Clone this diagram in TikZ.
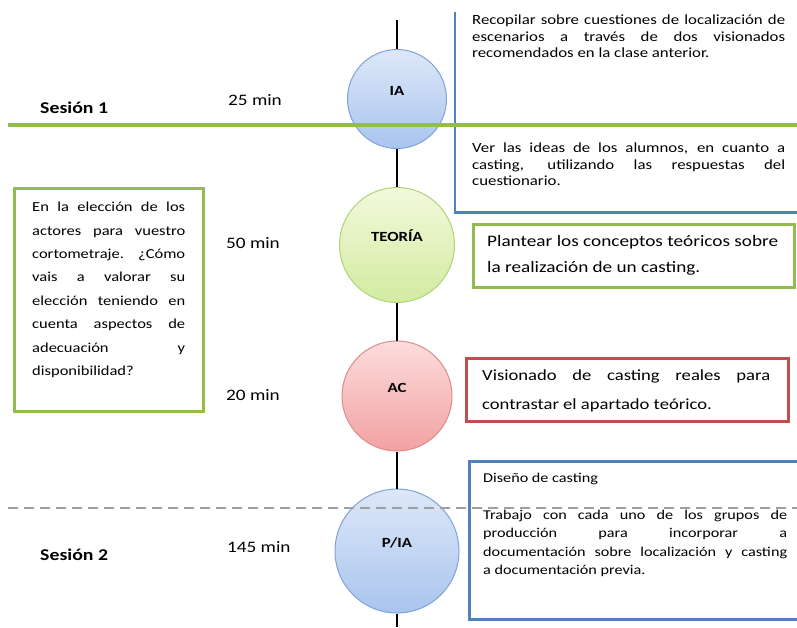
\documentclass[tikz,border=0pt]{standalone}
\usepackage{fontspec}
\setmainfont{Carlito}[FakeStretch=1.2]
\usepackage{tikz}
\setlength{\parindent}{0pt}
\hyphenpenalty=10000
\exhyphenpenalty=10000

\definecolor{boxblue}{HTML}{4F81BD}
\definecolor{boxgreen}{HTML}{92BC4E}
\definecolor{boxred}{HTML}{C0504D}
\definecolor{iatop}{HTML}{DDE8F8}
\definecolor{iabot}{HTML}{A9C4EE}
\definecolor{iaedge}{HTML}{7FA3D6}
\definecolor{teotop}{HTML}{F2F9DC}
\definecolor{teobot}{HTML}{D2EBA0}
\definecolor{teoedge}{HTML}{AED477}
\definecolor{actop}{HTML}{FCDCDC}
\definecolor{acbot}{HTML}{F2A2A2}
\definecolor{acedge}{HTML}{E08A8A}

\begin{document}
\begin{tikzpicture}[%
          x=1pt, y=-1pt,
          phase/.style={circle, draw, line width=1pt, text height=9pt, text depth=16pt,
                        font=\bfseries\fontsize{14}{16}\selectfont},
          framebox/.style={draw, line width=2.5pt, inner sep=0pt, anchor=north west},
          textblock/.style={anchor=north west, inner sep=0pt, align=justify},
          timelabel/.style={anchor=west, inner sep=0pt, font=\fontsize{16}{18}\selectfont},
          sessionlabel/.style={anchor=west, inner sep=0pt, font=\bfseries\fontsize{16.5}{18}\selectfont}]

  \useasboundingbox (0,0) rectangle (797,627);
  \clip (0,0) rectangle (797,627);

  \coordinate (axtop) at (397,20);
  \coordinate (axbot) at (397,627);

  % circles on the time axis
  \node[phase, minimum size=99pt, draw=iaedge, top color=iatop, bottom color=iabot] at (397,99) (ia) {IA};
  \node[phase, minimum size=115pt, draw=teoedge, top color=teotop, bottom color=teobot] at (397,245) (teoria) {TEORÍA};
  \node[phase, minimum size=110pt, draw=acedge, top color=actop, bottom color=acbot] at (397,396) (ac) {AC};
  \node[phase, minimum size=124pt, draw=iaedge, top color=iatop, bottom color=iabot] at (397,551) (pia) {P/IA};

  \draw[line width=2pt] (axtop) -- (ia);
  \draw[line width=2pt] (ia) -- (teoria);
  \draw[line width=2pt] (teoria) -- (ac);
  \draw[line width=2pt] (ac) -- (pia);
  \draw[line width=2pt] (pia) -- (axbot);

  % boxes
  \node[framebox, draw=none, minimum width=360pt, minimum height=198pt] at (455,12) (recbox) {};
  \draw[line width=2.5pt, boxblue] (recbox.north west) |- (recbox.south east);
  \node[framebox, draw=boxgreen, minimum width=189pt, minimum height=223pt] at (13,187) (qbox) {};
  \node[framebox, draw=boxgreen, minimum width=321pt, minimum height=63pt] at (472,223) (plantbox) {};
  \node[framebox, draw=boxred, minimum width=322pt, minimum height=63pt] at (465,357) (visbox) {};
  \node[framebox, draw=boxblue, minimum width=350pt, minimum height=158pt] at (468,460) (trabbox) {};

  % texts
  \node[textblock, text width=313pt, font=\fontsize{14}{16.5}\selectfont] at (472,15) (recop)
    {Recopilar sobre cuestiones de localización de\linebreak escenarios a través de dos visionados\linebreak recomendados en la clase anterior.};
  \node[textblock, text width=313pt, font=\fontsize{14}{16.5}\selectfont] at (472,143) (ideas)
    {Ver las ideas de los alumnos, en cuanto a\linebreak casting, utilizando las respuestas del\linebreak cuestionario.};
  \node[textblock, text width=153pt, font=\fontsize{13.75}{23.4}\selectfont] at (32,202) (question)
    {En la elección de los\linebreak actores para vuestro\linebreak cortometraje. ¿Cómo\linebreak vais a valorar su\linebreak elección teniendo en\linebreak cuenta aspectos de\linebreak adecuación y\linebreak disponibilidad?};
  \node[textblock, text width=291pt, font=\fontsize{16}{26}\selectfont] at (487,235) (plant)
    {Plantear los conceptos teóricos sobre\linebreak la realización de un casting.};
  \node[textblock, text width=288pt, font=\fontsize{15.5}{29}\selectfont] at (482,370) (vision)
    {Visionado de casting reales para\linebreak contrastar el apartado teórico.};
  \node[textblock, font=\fontsize{13.5}{18}\selectfont] at (483,473) (diseno) {Diseño de casting};
  \node[textblock, text width=304pt, font=\fontsize{13.5}{18.3}\selectfont] at (483,510) (trabajo)
    {Trabajo con cada uno de los grupos de\linebreak producción para incorporar a\linebreak documentación sobre localización y casting\linebreak a documentación previa.};

  % session labels and times
  \node[sessionlabel] at (40,108) (ses1) {Sesión 1};
  \node[sessionlabel] at (40,555) (ses2) {Sesión 2};
  \node[timelabel] at (228,100) (t25) {25 min};
  \node[timelabel] at (226,243) (t50) {50 min};
  \node[timelabel] at (226,395) (t20) {20 min};
  \node[timelabel] at (227,547) (t145) {145 min};

  % session separators
  \coordinate (s1west) at (8,125);
  \coordinate (s1east) at (797,125);
  \coordinate (s2west) at (8,508);
  \coordinate (s2east) at (797,508);
  \draw[line width=4pt, boxgreen] (s1west) -- (s1east);
  \draw[line width=1.5pt, gray!75, dash pattern=on 10pt off 6pt] (s2west) -- (s2east);

\end{tikzpicture}
\end{document}
